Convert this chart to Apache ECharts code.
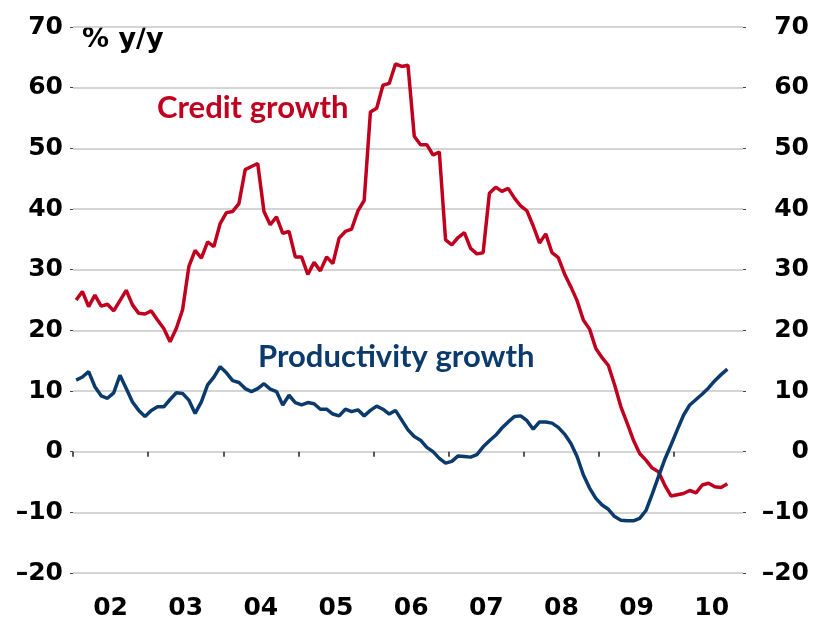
<!DOCTYPE html>
<html>
<head>
<meta charset="utf-8">
<script src="https://cdn.jsdelivr.net/npm/echarts@6/dist/echarts.min.js"></script>
<style>
  html, body { margin: 0; padding: 0; background: #fff; }
  #chart { width: 814px; height: 625px; }
</style>
</head>
<body>
<div id="chart"></div>
<script>
// monthly data, Jan 2002 .. Sep 2010, % y/y
const credit = [
  25.0, 26.4, 23.9, 25.8, 24.0, 24.3, 23.2, 24.9, 26.6, 24.2, 22.8, 22.7,
  23.2, 21.7, 20.3, 18.1, 20.3, 23.4, 30.5, 33.2, 31.9, 34.6, 33.8, 37.6,
  39.4, 39.6, 40.9, 46.5, 47.0, 47.5, 39.6, 37.4, 38.7, 36.0, 36.3, 32.1,
  32.1, 29.2, 31.2, 29.8, 32.1, 31.0, 35.2, 36.3, 36.7, 39.7, 41.4, 56.0,
  56.6, 60.4, 60.7, 63.9, 63.5, 63.7, 52.0, 50.6, 50.6, 48.9, 49.4, 34.9,
  34.1, 35.3, 36.1, 33.5, 32.6, 32.8, 42.6, 43.6, 42.9, 43.4, 41.8, 40.5,
  39.7, 37.2, 34.4, 35.9, 32.8, 32.0, 29.3, 27.2, 24.9, 21.7, 20.2, 17.0,
  15.5, 14.2, 11.0, 7.4, 4.7, 1.9, -0.3, -1.4, -2.7, -3.3, -5.5, -7.3,
  -7.1, -6.9, -6.4, -6.8, -5.5, -5.2, -5.8, -5.9, -5.3
]
const productivity = [
  11.8, 12.3, 13.2, 10.7, 9.2, 8.8, 9.7, 12.6, 10.4, 8.2, 6.8, 5.8,
  6.8, 7.4, 7.4, 8.6, 9.7, 9.6, 8.5, 6.3, 8.2, 11.0, 12.3, 14.0,
  13.0, 11.7, 11.4, 10.4, 9.9, 10.4, 11.2, 10.3, 9.9, 7.7, 9.3, 8.1,
  7.7, 8.1, 7.9, 7.0, 7.0, 6.2, 5.9, 7.0, 6.6, 6.9, 5.9, 6.8,
  7.5, 7.0, 6.2, 6.8, 5.2, 3.6, 2.5, 1.9, 0.7, 0.0, -1.1, -1.9,
  -1.6, -0.7, -0.8, -0.9, -0.5, 0.8, 1.8, 2.7, 3.9, 4.9, 5.8, 5.9,
  5.1, 3.7, 4.9, 4.9, 4.7, 4.0, 2.9, 1.4, -0.8, -3.8, -6.0, -7.7,
  -8.8, -9.5, -10.7, -11.3, -11.4, -11.4, -11.0, -9.7, -7.0, -4.1, -1.3, 1.1,
  3.6, 6.0, 7.7, 8.6, 9.5, 10.5, 11.7, 12.7, 13.6
]
const years = [2002, 2003, 2004, 2005, 2006, 2007, 2008, 2009, 2010]
const yearLabels = ['02', '03', '04', '05', '06', '07', '08', '09', '10']
const yTicks = { min: -20, max: 70, step: 10 }

// one category per month; axis runs Jan 2002 .. Nov 2010
const months = []
years.forEach(y => {
  for (let m = 1; m <= 12; m++) months.push(y + '-' + String(m).padStart(2, '0'))
})
const bands = months.slice(0, 107)       // data sits mid-month
const boundaries = months.slice(0, 108)  // month starts, for year ticks/labels

const RED = '#c0001f'
const BLUE = '#0b3a6c'
const labelFont = { fontFamily: 'DejaVu Sans', fontWeight: 'bold', fontSize: 25, color: '#000' }
const fmtY = v => v < 0 ? '\u2013' + Math.abs(v) : String(v)

const chart = echarts.init(document.getElementById('chart'), null, { renderer: 'canvas' })

const yBase = {
  type: 'value',
  min: yTicks.min,
  max: yTicks.max,
  interval: yTicks.step,
  axisLine: { show: false },
  axisTick: { show: true, length: 3, lineStyle: { color: '#444', width: 1 } }
}

chart.setOption({
  animation: false,
  backgroundColor: '#fff',
  grid: { left: 73, right: 71, top: 27, bottom: 52, containLabel: false },
  xAxis: [
    {
      type: 'category',
      data: bands,
      boundaryGap: true,
      axisLine: { show: false },
      axisTick: { show: false },
      axisLabel: { show: false }
    },
    {
      type: 'category',
      data: boundaries,
      boundaryGap: false,
      position: 'bottom',
      offset: 8,
      axisLine: { show: false },
      axisTick: {
        show: true,
        length: 5,
        interval: (i) => i % 12 === 0,
        lineStyle: { color: '#222', width: 1.5 }
      },
      axisLabel: {
        ...labelFont,
        margin: 15,
        interval: (i) => i % 12 === 6,
        formatter: (v, i) => yearLabels[Math.floor(i / 12)]
      },
      splitLine: { show: false }
    }
  ],
  yAxis: [
    {
      ...yBase,
      position: 'left',
      axisLabel: { ...labelFont, margin: 10, formatter: fmtY },
      splitLine: { show: true, lineStyle: { color: '#c4c6c6', width: 1.5 } }
    },
    {
      ...yBase,
      position: 'right',
      axisLabel: { ...labelFont, margin: 66, align: 'right', formatter: fmtY },
      splitLine: { show: false }
    }
  ],
  series: [
    {
      name: 'Credit growth',
      type: 'line',
      xAxisIndex: 0,
      yAxisIndex: 0,
      data: credit,
      symbol: 'none',
      lineStyle: { color: RED, width: 3.5 },
      z: 3
    },
    {
      name: 'Productivity growth',
      type: 'line',
      xAxisIndex: 0,
      yAxisIndex: 0,
      data: productivity,
      symbol: 'none',
      lineStyle: { color: BLUE, width: 3.5 },
      z: 4
    }
  ],
  graphic: [
    {
      type: 'text',
      left: 82,
      top: 26,
      style: { text: '% y/y', fontFamily: 'DejaVu Sans', fontWeight: 'bold', fontSize: 27, fill: '#000' }
    },
    {
      type: 'text',
      left: 157,
      top: 92,
      style: { text: 'Credit growth', fontFamily: 'Lato', fontWeight: 'bold', fontSize: 31, fill: RED }
    },
    {
      type: 'text',
      left: 258,
      top: 341,
      style: { text: 'Productivity growth', fontFamily: 'Lato', fontWeight: 'bold', fontSize: 31, fill: BLUE }
    }
  ]
})
</script>
</body>
</html>
